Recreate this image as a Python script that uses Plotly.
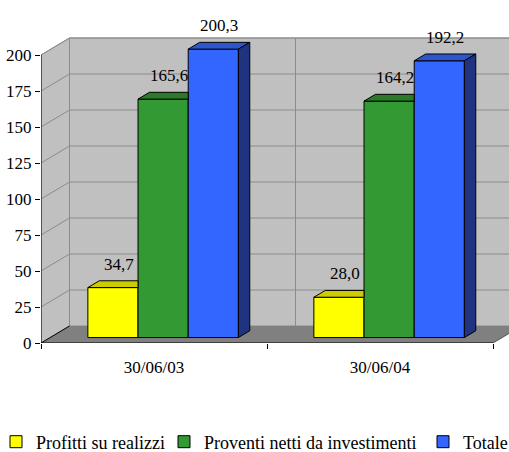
import plotly.graph_objects as go

# ---- data -------------------------------------------------------------
categories = ["30/06/03", "30/06/04"]
series_names = ["Profitti su realizzi", "Proventi netti da investimenti", "Totale"]
profitti = [34.7, 28.0]
proventi = [165.6, 164.2]
totale = [200.3, 192.2]
y_ticks = [0, 25, 50, 75, 100, 125, 150, 175, 200]

series_values = [profitti, proventi, totale]
face_colors = ["#FFFF00", "#339933", "#3366FF"]
top_colors = ["#CCCC00", "#2A7A2A", "#2E55CC"]
side_colors = ["#999900", "#1E5A1E", "#1F3380"]

# ---- pseudo-3D geometry (axis units) ----------------------------------
PX_PER_X = 226.0          # pixels per category unit
PX_PER_Y = 1.44           # pixels per value unit
WALL_DX = 28.5 / PX_PER_X  # depth of the chart box, horizontal
WALL_DY = 17.0 / PX_PER_Y  # depth of the chart box, vertical
BAR_W = 0.222
F_FRONT, F_BACK = 0.32, 0.72   # bar slab position inside the depth
Y_MAX = max(y_ticks)

x_lo, x_hi = -0.5, len(categories) - 0.5
base = F_FRONT * WALL_DY
ddx = (F_BACK - F_FRONT) * WALL_DX
ddy = (F_BACK - F_FRONT) * WALL_DY

FONT = "Liberation Serif"
fig = go.Figure()

# ---- walls, floor and gridlines ---------------------------------------
wall = "#C0C0C0"
grid = "#8C8C8C"
shapes = []


def poly(pts):
    return "M " + " L ".join(f"{x},{y}" for x, y in pts) + " Z"


def seg(x0, y0, x1, y1, color, width=1):
    return dict(type="line", xref="x", yref="y", layer="below",
                x0=x0, y0=y0, x1=x1, y1=y1, line=dict(color=color, width=width))


# side wall
shapes.append(dict(type="path", xref="x", yref="y", layer="below",
                   path=poly([(x_lo, 0), (x_lo + WALL_DX, WALL_DY),
                              (x_lo + WALL_DX, Y_MAX + WALL_DY), (x_lo, Y_MAX)]),
                   fillcolor=wall, line=dict(color=grid, width=1)))
# back wall
shapes.append(dict(type="rect", xref="x", yref="y", layer="below",
                   x0=x_lo + WALL_DX, x1=x_hi + WALL_DX,
                   y0=WALL_DY, y1=Y_MAX + WALL_DY,
                   fillcolor=wall, line=dict(color=grid, width=1)))
# horizontal gridlines on back and side wall
for t in y_ticks[1:]:
    shapes.append(seg(x_lo + WALL_DX, t + WALL_DY, x_hi + WALL_DX, t + WALL_DY, grid))
    shapes.append(seg(x_lo, t, x_lo + WALL_DX, t + WALL_DY, grid))
# vertical gridlines on back wall at category boundaries
for k in range(len(categories) + 1):
    xb = x_lo + k + WALL_DX
    shapes.append(seg(xb, WALL_DY, xb, Y_MAX + WALL_DY, grid))
# floor: filled plane, dark front and side edges
shapes.append(dict(type="path", xref="x", yref="y", layer="below",
                   path=poly([(x_lo, 0), (x_hi, 0), (x_hi + WALL_DX, WALL_DY),
                              (x_lo + WALL_DX, WALL_DY)]),
                   fillcolor="#808080", line=dict(width=0)))
shapes.append(seg(x_lo, 0, x_hi, 0, "black"))
shapes.append(seg(x_lo, 0, x_lo + WALL_DX, WALL_DY, "black"))
shapes.append(seg(x_hi, 0, x_hi + WALL_DX, WALL_DY, "#555555"))
# front value axis line
shapes.append(seg(x_lo, 0, x_lo, Y_MAX, "black"))

# ---- bars: front faces --------------------------------------------------
W, H = 509, 452
ML, MB = 41, 109
plot_w, plot_h = W - ML, H - MB

# each series gets its own one-item legend so the row can run past the edge
legend_text_x = [36.0, 204.0, 463.0]   # pixel where each legend label starts
legend_names = ["legend", "legend2", "legend3"]

n = len(series_values)
offsets = [(-n / 2 + 0.5 + i) * BAR_W for i in range(n)]
for s, (name, vals) in enumerate(zip(series_names, series_values)):
    fig.add_trace(go.Bar(
        name=name,
        x=[c + offsets[s] + F_FRONT * WALL_DX for c in range(len(categories))],
        y=vals, base=base, width=BAR_W,
        marker=dict(color=face_colors[s], line=dict(color="black", width=1)),
        hoverinfo="skip", legend=legend_names[s],
    ))

# ---- bars: top and side faces, value labels ----------------------------
annotations = []
for c in range(len(categories)):
    for s in range(n):
        v = series_values[s][c]
        xl = c + offsets[s] - BAR_W / 2 + F_FRONT * WALL_DX
        xr = xl + BAR_W
        top = v + base
        hidden_right = s + 1 < n and series_values[s + 1][c] >= v
        if hidden_right:
            top_pts = [(xl, top), (xr, top), (xr, top + ddy), (xl + ddx, top + ddy)]
        else:
            top_pts = [(xl, top), (xr, top), (xr + ddx, top + ddy), (xl + ddx, top + ddy)]
        top_pts.append(top_pts[0])
        fig.add_trace(go.Scatter(
            x=[p[0] for p in top_pts], y=[p[1] for p in top_pts],
            mode="lines", fill="toself", fillcolor=top_colors[s],
            line=dict(color="black", width=1), showlegend=False, hoverinfo="skip"))
        if not hidden_right:
            side = [(xr, base), (xr + ddx, base + ddy), (xr + ddx, top + ddy),
                    (xr, top), (xr, base)]
            fig.add_trace(go.Scatter(
                x=[p[0] for p in side], y=[p[1] for p in side],
                mode="lines", fill="toself", fillcolor=side_colors[s],
                line=dict(color="black", width=1), showlegend=False, hoverinfo="skip"))
        annotations.append(dict(
            x=(xl + xr) / 2 + ddx / 2, y=top + ddy, xref="x", yref="y",
            text=f"{v:.1f}".replace(".", ","), showarrow=False,
            xanchor="center", yanchor="bottom", yshift=5,
            font=dict(family=FONT, size=17, color="black")))

# ---- layout -------------------------------------------------------------
legend_layout = {}
for s, lname in enumerate(legend_names):
    legend_layout[lname] = dict(
        orientation="h", x=(legend_text_x[s] - 40 - ML) / plot_w, xanchor="left",
        y=-99 / plot_h, yanchor="middle",
        font=dict(family=FONT, size=18, color="black"),
        bgcolor="rgba(0,0,0,0)", itemwidth=30)

fig.update_layout(
    width=W, height=H,
    margin=dict(l=ML, r=0, t=0, b=MB, pad=0, autoexpand=False),
    paper_bgcolor="white", plot_bgcolor="white",
    barmode="overlay",
    shapes=shapes, annotations=annotations,
    font=dict(family=FONT, size=17, color="black"),
    xaxis=dict(
        range=[x_lo, x_hi + (plot_w - (x_hi - x_lo) * PX_PER_X) / PX_PER_X],
        tickvals=list(range(len(categories))), ticktext=categories,
        ticks="", showgrid=False, zeroline=False, showline=False,
        ticklabelstandoff=12, automargin=False,
        tickfont=dict(family=FONT, size=17, color="black"),
        minor=dict(tickvals=[x_lo + k for k in range(len(categories) + 1)],
                   ticks="outside", ticklen=5, tickcolor="black", showgrid=False),
        fixedrange=True,
    ),
    yaxis=dict(
        range=[0, plot_h / PX_PER_Y],
        tickvals=y_ticks, ticktext=[str(t) for t in y_ticks],
        ticks="outside", ticklen=5, tickcolor="black",
        showgrid=False, zeroline=False, showline=False, automargin=False,
        tickfont=dict(family=FONT, size=17, color="black"),
        fixedrange=True,
    ),
    **legend_layout,
)

fig.write_html("out.html", config={"displayModeBar": False})
